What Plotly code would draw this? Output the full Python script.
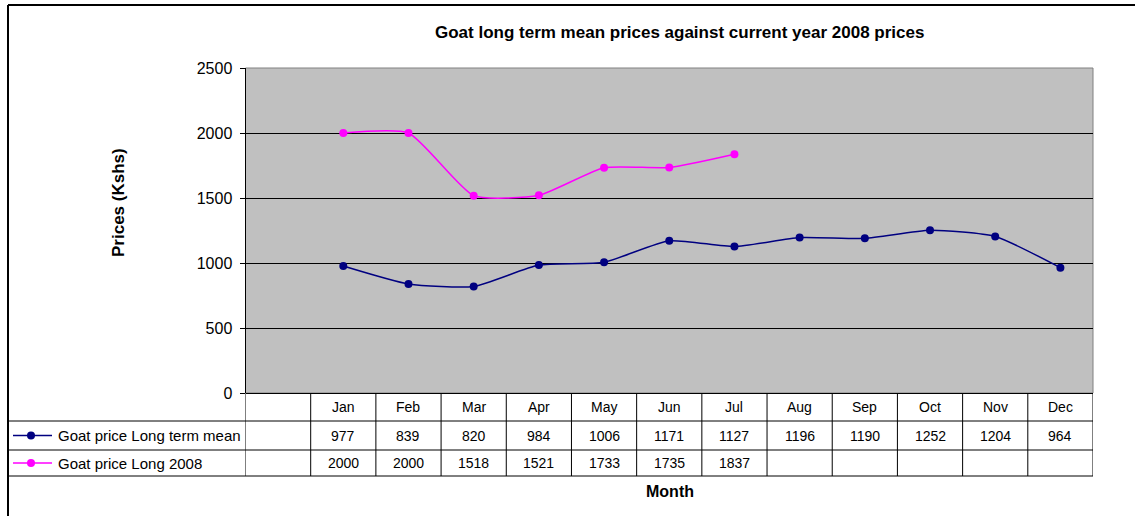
import plotly.graph_objects as go

W, H = 1135, 516

months = ["Jan", "Feb", "Mar", "Apr", "May", "Jun", "Jul", "Aug", "Sep", "Oct", "Nov", "Dec"]
long_term_mean = [977, 839, 820, 984, 1006, 1171, 1127, 1196, 1190, 1252, 1204, 964]
prices_2008 = [2000, 2000, 1518, 1521, 1733, 1735, 1837]
series_names = ["Goat price Long term mean", "Goat price Long 2008"]
series_colors = ["#000080", "#FF00FF"]
y_ticks = [0, 500, 1000, 1500, 2000, 2500]


def px(x):
    return x / W


def py(y):
    return 1 - y / H


# plot area in pixels
PL, PR, PT, PB = 245.5, 1093, 68, 393
ROW1, ROW2, ROW3 = 421, 450, 476
LEFT = 9

xs_mean = list(range(1, len(long_term_mean) + 1))
xs_2008 = list(range(1, len(prices_2008) + 1))

fig = go.Figure()
fig.add_trace(go.Scatter(
    x=xs_mean, y=long_term_mean, mode="lines+markers", name=series_names[0],
    line=dict(color=series_colors[0], width=1.5, shape="spline", smoothing=0.55),
    marker=dict(color=series_colors[0], size=8), showlegend=False,
))
fig.add_trace(go.Scatter(
    x=xs_2008, y=prices_2008, mode="lines+markers", name=series_names[1],
    line=dict(color=series_colors[1], width=1.5, shape="spline", smoothing=0.55),
    marker=dict(color=series_colors[1], size=8), showlegend=False,
))

shapes = []
annotations = []
FAM = "Liberation Sans, Arial, sans-serif"
font_tbl = dict(family=FAM, size=14, color="#000000")
font_leg = dict(family=FAM, size=15, color="#000000")
font_tick = dict(family=FAM, size=16, color="#000000")
bold = dict(family=FAM, size=17, color="#000000")
bold_x = dict(family=FAM, size=16, color="#000000")

# plot area border (gray)
shapes.append(dict(type="rect", xref="paper", yref="paper", x0=px(PL), x1=px(PR), y0=py(PB), y1=py(PT),
                   line=dict(color="#808080", width=1), layer="below"))

# outer frame
shapes.append(dict(type="line", xref="paper", yref="paper", x0=px(8), x1=px(W + 5), y0=py(5), y1=py(5),
                   line=dict(color="#000000", width=2)))
shapes.append(dict(type="line", xref="paper", yref="paper", x0=px(8), x1=px(8), y0=py(5), y1=py(H + 5),
                   line=dict(color="#000000", width=2)))

# table horizontal lines
for yy in [ROW1, ROW2, ROW3]:
    shapes.append(dict(type="line", xref="paper", yref="paper", x0=px(LEFT), x1=px(PR), y0=py(yy), y1=py(yy),
                       line=dict(color="#000000", width=1)))
# table vertical lines at category boundaries
for k in range(len(months) + 2):
    shapes.append(dict(type="line", xref="x", yref="paper", x0=k - 0.5, x1=k - 0.5, y0=py(ROW3), y1=py(PB),
                       line=dict(color="#000000", width=1)))

# month labels and values
for i, m in enumerate(months):
    annotations.append(dict(x=i + 1, y=py((PB + ROW1) / 2), xref="x", yref="paper", text=m,
                            showarrow=False, font=font_tbl, xanchor="center", yanchor="middle"))
for i, v in enumerate(long_term_mean):
    annotations.append(dict(x=i + 1, y=py((ROW1 + ROW2) / 2), xref="x", yref="paper", text=str(v),
                            showarrow=False, font=font_tbl, xanchor="center", yanchor="middle"))
for i, v in enumerate(prices_2008):
    annotations.append(dict(x=i + 1, y=py((ROW2 + ROW3) / 2), xref="x", yref="paper", text=str(v),
                            showarrow=False, font=font_tbl, xanchor="center", yanchor="middle"))

# legend keys in table
for r, (yy0, yy1) in enumerate([(ROW1, ROW2), (ROW2, ROW3)]):
    yc = (yy0 + yy1) / 2
    shapes.append(dict(type="line", xref="paper", yref="paper", x0=px(13), x1=px(52), y0=py(yc), y1=py(yc),
                       line=dict(color=series_colors[r], width=1.5)))
    shapes.append(dict(type="circle", xref="paper", yref="paper", x0=px(27), x1=px(35), y0=py(yc + 4), y1=py(yc - 4),
                       line=dict(color=series_colors[r], width=0), fillcolor=series_colors[r]))
    annotations.append(dict(x=px(56), y=py(yc), xref="paper", yref="paper", text=series_names[r],
                            showarrow=False, font=font_leg, xanchor="left", yanchor="middle"))

# titles
annotations.append(dict(x=px(679), y=py(32), xref="paper", yref="paper",
                        text="<b>Goat long term mean prices against current year 2008 prices</b>",
                        showarrow=False, font=bold, xanchor="center", yanchor="middle"))
annotations.append(dict(x=px(118), y=py(203), xref="paper", yref="paper", text="<b>Prices (Kshs)</b>",
                        textangle=-90, showarrow=False, font=bold, xanchor="center", yanchor="middle"))
annotations.append(dict(x=px(670), y=py(491), xref="paper", yref="paper", text="<b>Month</b>",
                        showarrow=False, font=bold_x, xanchor="center", yanchor="middle"))

fig.update_layout(
    template="none",
    width=W, height=H, autosize=False,
    margin=dict(l=0, r=0, t=0, b=0, pad=0),
    paper_bgcolor="#FFFFFF", plot_bgcolor="#C0C0C0",
    xaxis=dict(domain=[px(PL), px(PR)], range=[-0.5, len(months) + 0.5], showticklabels=False,
               showgrid=False, zeroline=False, showline=False, ticks="", automargin=False),
    yaxis=dict(domain=[py(PB), py(PT)], range=[0, 2500], tickvals=y_ticks, showgrid=True,
               gridcolor="#000000", gridwidth=1, zeroline=True, zerolinecolor="#000000", zerolinewidth=1,
               showline=True, linecolor="#000000", linewidth=1, ticks="outside", ticklen=5,
               tickcolor="#000000", tickfont=font_tick, ticklabelstandoff=4, automargin=False),
    shapes=shapes, annotations=annotations,
)

fig.write_html("out.html", config={"displayModeBar": False},
               post_script="document.body.style.margin='0';document.body.style.overflow='hidden';")
